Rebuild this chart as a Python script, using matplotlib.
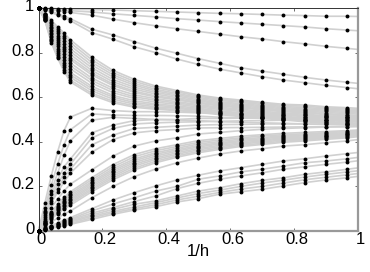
import matplotlib
matplotlib.use("Agg")
import matplotlib.pyplot as plt
from matplotlib.transforms import ScaledTranslation

x = [0, .02, .04, .06, .08, .1, .1667, .2333, .3, .3667, .4333, .5, .5667, .6333, .7, .7667, .8333, .9, .9667, 1]

# five curves that stay high
high_curves = [
    [1, .998, .998, .997, .996, .995, .993, .991, .988, .985, .982, .979, .976, .974, .971, .968, .966, .963, .963, .962],
    [1, .997, .995, .993, .991, .988, .982, .974, .967, .96, .952, .946, .939, .933, .927, .921, .915, .907, .901, .898],
    [1, .996, .992, .988, .984, .98, .968, .95, .934, .92, .907, .895, .883, .871, .861, .849, .839, .828, .819, .814],
    [1, .995, .985, .975, .963, .952, .905, .879, .849, .82, .797, .773, .752, .732, .717, .703, .689, .677, .667, .662],
    [1, .99, .98, .968, .955, .943, .89, .86, .826, .80, .771, .747, .726, .709, .692, .677, .665, .653, .643, .638],
]

# band falling towards 0.5
falling_band = [
    [1, .975, .945, .915, .888, .857, .78, .72, .68, .65, .63, .61, .596, .587, .577, .568, .565, .557, .553, .55],
    [1, .973, .938, .905, .876, .844, .768, .710, .671, .643, .624, .605, .591, .582, .572, .563, .560, .552, .548, .545],
    [1, .971, .931, .895, .864, .831, .756, .700, .662, .635, .617, .599, .586, .577, .567, .558, .554, .547, .542, .539],
    [1, .969, .924, .886, .852, .817, .744, .690, .654, .628, .611, .594, .580, .571, .562, .553, .549, .541, .537, .534],
    [1, .967, .917, .876, .840, .804, .732, .679, .645, .621, .605, .588, .575, .566, .557, .548, .544, .536, .532, .529],
    [1, .964, .910, .866, .827, .791, .720, .669, .636, .614, .598, .583, .570, .561, .552, .543, .539, .531, .527, .524],
    [1, .962, .903, .856, .815, .778, .709, .659, .627, .606, .592, .577, .565, .556, .547, .539, .533, .526, .521, .518],
    [1, .961, .898, .849, .807, .768, .700, .652, .621, .601, .588, .573, .561, .552, .543, .535, .530, .522, .518, .515],
    [1, .958, .890, .838, .793, .753, .686, .640, .611, .593, .580, .567, .555, .546, .537, .529, .524, .516, .512, .509],
    [1, .956, .883, .828, .781, .740, .675, .630, .602, .586, .574, .562, .550, .541, .532, .525, .518, .511, .506, .503],
    [1, .954, .876, .818, .769, .727, .663, .620, .594, .578, .568, .556, .545, .536, .527, .520, .513, .506, .501, .498],
    [1, .952, .868, .807, .755, .711, .649, .608, .584, .570, .561, .550, .539, .530, .522, .514, .507, .500, .495, .492],
    [1, .950, .862, .799, .744, .700, .639, .600, .576, .564, .555, .545, .535, .526, .517, .510, .503, .496, .491, .488],
    [1, .948, .856, .790, .734, .689, .629, .591, .569, .557, .550, .541, .530, .521, .513, .506, .498, .491, .486, .483],
    [1, .946, .850, .782, .724, .677, .618, .582, .561, .551, .544, .536, .526, .517, .509, .501, .494, .487, .482, .479],
    [1, .945, .845, .775, .715, .668, .61, .575, .555, .546, .54, .532, .522, .513, .505, .498, .49, .483, .478, .475],
]

# curves rising quickly, then flat
rising_fast = [
    [0, .126, .247, .356, .45, .511, .55, .54, .535, .535, .533, .53, .528, .526, .524, .52, .518, .515, .513, .51],
    [0, .105, .206, .30, .387, .454, .525, .52, .518, .518, .517, .515, .51, .508, .505, .503, .50, .498, .496, .495],
    [0, .09, .18, .26, .34, .405, .497, .51, .505, .50, .498, .495, .49, .488, .485, .483, .48, .478, .476, .475],
    [0, .085, .165, .23, .288, .323, .44, .475, .495, .50, .50, .505, .505, .506, .507, .508, .509, .51, .51, .51],
    [0, .08, .15, .21, .26, .30, .417, .46, .48, .485, .488, .49, .492, .494, .495, .497, .498, .499, .50, .50],
    [0, .07, .135, .19, .24, .278, .386, .43, .46, .465, .47, .475, .477, .478, .48, .48, .48, .479, .478, .478],
    [0, .063, .125, .175, .22, .26, .353, .41, .44, .45, .455, .462, .463, .464, .465, .466, .467, .468, .468, .468],
]

# middle band, rising to about 0.45
rising_band = [
    [0, .055, .105, .143, .18, .21, .274, .336, .381, .404, .418, .435, .442, .45, .456, .46, .463, .466, .468, .47],
    [0, .045, .087, .119, .151, .176, .239, .298, .343, .369, .387, .405, .415, .425, .432, .438, .442, .446, .450, .453],
    [0, .043, .082, .113, .144, .168, .230, .288, .333, .360, .379, .397, .408, .418, .426, .432, .436, .441, .446, .449],
    [0, .040, .078, .107, .136, .160, .221, .279, .323, .351, .371, .390, .401, .412, .419, .427, .431, .437, .441, .445],
    [0, .038, .074, .102, .130, .152, .214, .271, .315, .344, .364, .383, .395, .406, .414, .422, .427, .432, .437, .441],
    [0, .036, .070, .097, .124, .145, .206, .263, .307, .336, .358, .377, .390, .401, .409, .417, .422, .428, .433, .438],
    [0, .034, .066, .092, .118, .138, .199, .254, .299, .328, .351, .370, .384, .395, .404, .413, .417, .424, .430, .434],
    [0, .032, .062, .087, .111, .131, .191, .246, .291, .321, .344, .364, .378, .390, .399, .408, .413, .420, .426, .430],
    [0, .030, .058, .082, .105, .124, .184, .238, .282, .313, .337, .357, .372, .384, .393, .403, .408, .416, .422, .427],
    [0, .028, .054, .077, .099, .116, .176, .230, .274, .306, .331, .351, .366, .379, .388, .398, .404, .411, .418, .423],
    [0, .02, .04, .058, .076, .09, .149, .2, .244, .278, .306, .327, .345, .359, .369, .381, .387, .396, .404, .41],
]

# lowest curves
rising_low = [
    [0, .012, .024, .036, .048, .06, .10, .139, .172, .202, .229, .25, .269, .284, .299, .314, .324, .336, .347, .352],
    [0, .011, .022, .033, .044, .054, .09, .121, .149, .179, .20, .232, .247, .265, .277, .291, .306, .314, .324, .33],
    [0, .010, .02, .03, .04, .05, .08, .105, .132, .157, .19, .214, .232, .247, .261, .277, .288, .299, .309, .315],
    [0, .009, .018, .027, .036, .045, .072, .097, .12, .135, .157, .179, .194, .212, .227, .239, .254, .265, .277, .283],
    [0, .008, .016, .024, .032, .04, .066, .088, .108, .127, .148, .168, .183, .2, .215, .228, .242, .254, .265, .27],
    [0, .007, .014, .021, .028, .034, .059, .082, .10, .118, .139, .156, .173, .188, .2, .215, .23, .241, .252, .258],
    [0, .006, .012, .018, .024, .03, .052, .075, .094, .109, .13, .145, .165, .176, .187, .202, .217, .229, .239, .245],
]

ticks = [0, .2, .4, .6, .8, 1]
tick_labels = ["0", "0.2", "0.4", "0.6", "0.8", "1"]

plt.rcParams["font.family"] = "Liberation Sans"

fig = plt.figure(figsize=(3.7, 2.72), dpi=100)
ax = fig.add_axes([38.5 / 370, 41 / 272, 319.5 / 370, 223 / 272])

all_curves = high_curves + falling_band + rising_fast + rising_band + rising_low

for y in all_curves:
    ax.plot(x, y, color="#d0d0d0", lw=1.2, zorder=2, clip_on=False)
for y in all_curves:
    ax.plot(x[:-1], y[:-1], ls="none", marker="o", ms=2.8, mfc="black", mec="black", mew=0, zorder=3, clip_on=False)

ax.set_xlim(0, 1)
ax.set_ylim(0, 1)
ax.set_xticks(ticks)
ax.set_xticklabels(tick_labels)
ax.set_yticks(ticks)
ax.set_yticklabels(tick_labels)
ax.tick_params(direction="in", length=2, width=0.5, color="#333333", labelsize=12, top=True, right=True, pad=0.8)
ax.tick_params(axis="y", pad=3)

for side in ["left", "top"]:
    ax.spines[side].set_linewidth(0.7)
    ax.spines[side].set_color("#333333")
for side in ["right", "bottom"]:
    ax.spines[side].set_linewidth(1.6)
    ax.spines[side].set_color("#999999")

# labels sit a bit off their ticks in the original
for lab in ax.get_xticklabels():
    lab.set_transform(lab.get_transform() + ScaledTranslation(2.5 / 100, 0, fig.dpi_scale_trans))
for lab in ax.get_yticklabels():
    lab.set_transform(lab.get_transform() + ScaledTranslation(0, 3 / 100, fig.dpi_scale_trans))

ax.set_xlabel("1/h", fontsize=12, labelpad=-2.5)

fig.savefig("out.png", dpi=100)
